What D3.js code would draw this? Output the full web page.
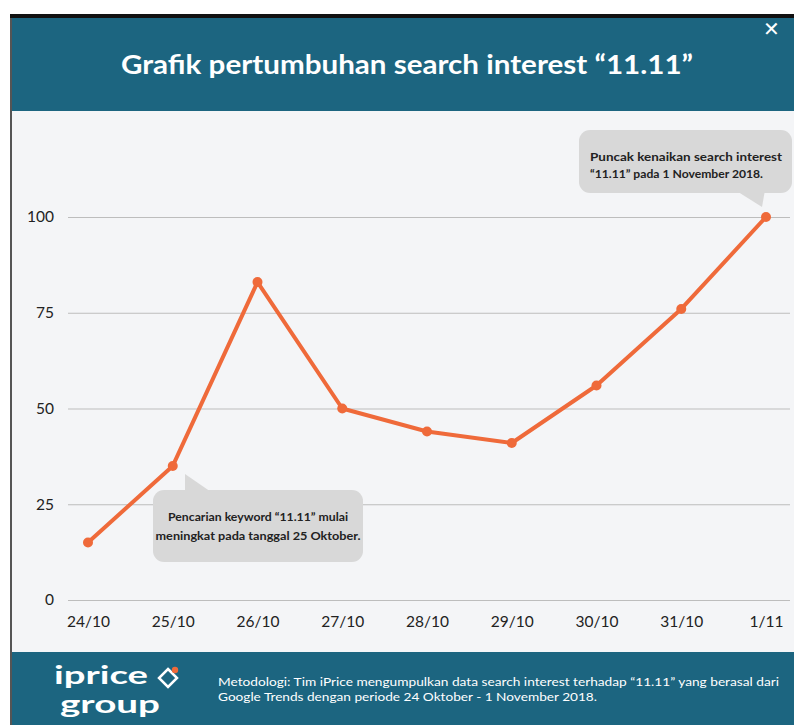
<!DOCTYPE html>
<html><head><meta charset="utf-8">
<script src="https://cdn.jsdelivr.net/npm/d3@7"></script>
<style>body{margin:0;background:#fff;}svg{display:block;}</style>
</head><body>
<script>
const categories = ["24/10","25/10","26/10","27/10","28/10","29/10","30/10","31/10","1/11"];
const values = [15, 35, 83, 50, 44, 41, 56, 76, 100];
const yTicks = [0, 25, 50, 75, 100];
const title = "Grafik pertumbuhan search interest \u201c11.11\u201d";
const note1 = ["Pencarian keyword \u201c11.11\u201d mulai", "meningkat pada tanggal 25 Oktober."];
const note2 = ["Puncak kenaikan search interest", "\u201c11.11\u201d pada 1 November 2018."];
const footer = ["Metodologi: Tim iPrice mengumpulkan data search interest terhadap \u201c11.11\u201d yang berasal dari", "Google Trends dengan periode 24 Oktober - 1 November 2018."];

const W = 794, H = 725;
const svg = d3.select("body").append("svg").attr("width", W).attr("height", H);
const font = "Lato, 'Open Sans', sans-serif";

// backgrounds
svg.append("rect").attr("x",0).attr("y",0).attr("width",W).attr("height",H).attr("fill","#fff");
svg.append("rect").attr("x",10).attr("y",14).attr("width",W-10).attr("height",4).attr("fill","#111");
svg.append("rect").attr("x",10).attr("y",18).attr("width",W-10).attr("height",93).attr("fill","#1c6580");
svg.append("rect").attr("x",10).attr("y",111).attr("width",W-10).attr("height",541).attr("fill","#f4f5f7");
svg.append("rect").attr("x",10).attr("y",652).attr("width",W-10).attr("height",73).attr("fill","#1c6580");
svg.append("rect").attr("x",10).attr("y",18).attr("width",2).attr("height",707).attr("fill","#555");

svg.append("text").attr("x",121).attr("y",74)
  .attr("fill","#fff").attr("font-family",font).attr("font-weight","bold").attr("font-size",26)
  .attr("textLength",572).attr("lengthAdjust","spacingAndGlyphs")
  .text(title);
svg.append("text").attr("x",771).attr("y",36).attr("text-anchor","middle")
  .attr("fill","#fff").attr("font-family",font).attr("font-size",20).text("\u2715");

const x = d3.scalePoint().domain(categories).range([88, 766]);
const y = d3.scaleLinear().domain([0, 100]).range([600, 217]);

// grid
const gy = svg.append("g").attr("transform","translate(68,0)")
  .call(d3.axisLeft(y).tickValues(yTicks).tickSize(-722).tickPadding(14));
gy.select(".domain").remove();
gy.selectAll(".tick line").attr("stroke","#bdbdbd").attr("stroke-width",1);
gy.selectAll(".tick text").attr("fill","#222").attr("font-family",font).attr("font-size",15.5);

const gx = svg.append("g").attr("transform","translate(0,606)")
  .call(d3.axisBottom(x).tickSize(0).tickPadding(10));
gx.select(".domain").remove();
gx.selectAll(".tick text").attr("fill","#222").attr("font-family",font).attr("font-size",15.5);

const data = categories.map((c,i)=>({c, v: values[i]}));
svg.append("path").datum(data)
  .attr("d", d3.line().x(d=>x(d.c)).y(d=>y(d.v)))
  .attr("fill","none").attr("stroke","#ef6a3a").attr("stroke-width",4).attr("stroke-linejoin","round");
svg.selectAll("circle.pt").data(data).enter().append("circle")
  .attr("cx",d=>x(d.c)).attr("cy",d=>y(d.v)).attr("r",5).attr("fill","#ef6a3a");

// callouts
const cfill = "#d8d8d8";
svg.append("rect").attr("x",153).attr("y",490).attr("width",210).attr("height",72).attr("rx",11).attr("fill",cfill);
svg.append("path").attr("d","M185,474 L185,494 L214,494 Z").attr("fill",cfill);
const n1w = [180, 205];
note1.forEach((t,i)=>svg.append("text").attr("x",258 - n1w[i]/2).attr("y",521+i*19)
  .attr("textLength",n1w[i]).attr("lengthAdjust","spacingAndGlyphs")
  .attr("fill","#222").attr("font-family",font).attr("font-weight","bold").attr("font-size",12).text(t));

svg.append("rect").attr("x",579).attr("y",130).attr("width",213).attr("height",63).attr("rx",11).attr("fill",cfill);
svg.append("path").attr("d","M735,190 L765,190 L762,207 Z").attr("fill",cfill);
const n2w = [192, 173];
note2.forEach((t,i)=>svg.append("text").attr("x",590).attr("y",161+i*17)
  .attr("textLength",n2w[i]).attr("lengthAdjust","spacingAndGlyphs")
  .attr("fill","#222").attr("font-family",font).attr("font-weight","bold").attr("font-size",12).text(t));

// footer logo
const logo = svg.append("text").attr("fill","#fff").attr("font-family",font)
  .attr("font-weight","bold").attr("font-size",25);
logo.append("tspan").attr("x",54).attr("y",684).attr("textLength",94).attr("lengthAdjust","spacingAndGlyphs").text("iprice");
logo.append("tspan").attr("x",60).attr("y",713).attr("textLength",100).attr("lengthAdjust","spacingAndGlyphs").text("group");
svg.append("path").attr("d","M168,669 L177,678 L168,687 L159,678 Z").attr("fill","none").attr("stroke","#fff").attr("stroke-width",2.5);
svg.append("circle").attr("cx",175).attr("cy",670).attr("r",3.2).attr("fill","#ef6a3a");

const fw = [561, 379];
footer.forEach((t,i)=>svg.append("text").attr("x",218).attr("y",686+i*15)
  .attr("textLength",fw[i]).attr("lengthAdjust","spacingAndGlyphs")
  .attr("fill","#fff").attr("font-family",font).attr("font-size",11.5).text(t));
</script>
</body></html>
